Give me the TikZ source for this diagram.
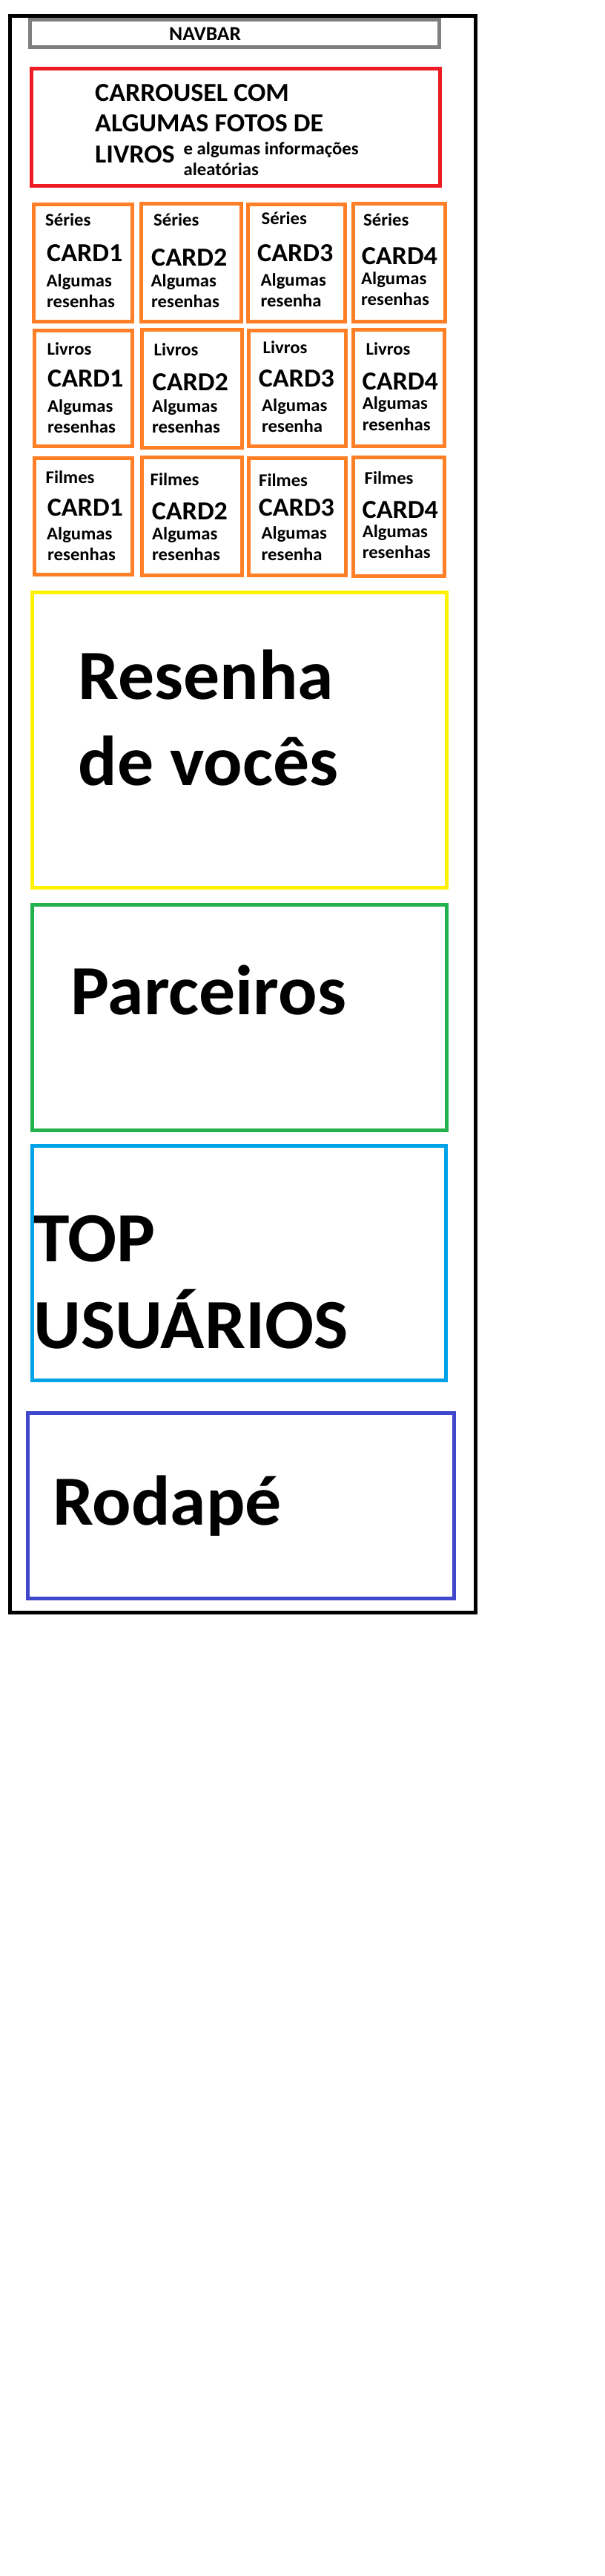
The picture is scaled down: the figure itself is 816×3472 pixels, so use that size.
\documentclass[tikz,border=0pt]{standalone}
\usepackage{fontspec}
\setmainfont{Carlito}[FakeStretch=1.03]
\definecolor{navgray}{HTML}{7F7F7F}
\definecolor{pred}{HTML}{ED1C24}
\definecolor{porange}{HTML}{FF7F27}
\definecolor{pyellow}{HTML}{FFF200}
\definecolor{pgreen}{HTML}{22B14C}
\definecolor{pcyan}{HTML}{00A2E8}
\definecolor{pindigo}{HTML}{3F48CC}
\tikzset{
  frame/.style={line width=5pt},
  txtnav/.style={anchor=base west, inner sep=0pt, font=\fontsize{26.7}{32}\selectfont\bfseries},
  txtsmall/.style={anchor=base west, inner sep=0pt, font=\fontsize{24}{29}\selectfont\bfseries},
  txtcard/.style={anchor=base west, inner sep=0pt, font=\fontsize{35}{42}\selectfont\bfseries},
  txtbig/.style={anchor=base west, inner sep=0pt, font=\fontsize{95}{115}\selectfont\bfseries},
}
\begin{document}
\begin{tikzpicture}[x=1pt,y=-1pt]
\useasboundingbox (0,0) rectangle (816,3472);
\fill[white] (0,0) rectangle (816,3472);
% outer frame
\draw[frame,black] (13.5,21.5) rectangle (641.5,2173.5);
% navbar
\draw[frame,navgray] (40.5,26) rectangle (592.5,63.5);
\node[txtnav] (nav) at (228,54) {NAVBAR};
% carrousel
\draw[frame,pred] (42.5,92) rectangle (593.5,250);
\node[txtcard] (car1) at (128,136) {CARROUSEL COM};
\node[txtcard] (car2) at (128,177.3) {ALGUMAS FOTOS DE};
\node[txtcard] (car3) at (128,219.3) {LIVROS};
\node[txtsmall] (car4) at (247.5,208) {e algumas informações};
\node[txtsmall] (car5) at (247.5,236) {aleatórias};
% cards row 1 (Séries)
\draw[frame,porange] (45.5,275) rectangle (178.5,433.5);
\draw[frame,porange] (190.5,274.5) rectangle (325,433.5);
\draw[frame,porange] (334.5,275) rectangle (465.5,433.5);
\draw[frame,porange] (476,274.5) rectangle (600,433.5);
\node[txtsmall] (s1a) at (61,304) {Séries};
\node[txtcard]  (s1b) at (63,352.7) {CARD1};
\node[txtsmall] (s1c) at (62.5,386) {Algumas};
\node[txtsmall] (s1d) at (63,414) {resenhas};
\node[txtsmall] (s2a) at (207,304) {Séries};
\node[txtcard]  (s2b) at (204,358) {CARD2};
\node[txtsmall] (s2c) at (203.5,386) {Algumas};
\node[txtsmall] (s2d) at (204,414) {resenhas};
\node[txtsmall] (s3a) at (352.5,302) {Séries};
\node[txtcard]  (s3b) at (347,352.7) {CARD3};
\node[txtsmall] (s3c) at (351.5,385) {Algumas};
\node[txtsmall] (s3d) at (351.5,413) {resenha};
\node[txtsmall] (s4a) at (490,304.7) {Séries};
\node[txtcard]  (s4b) at (487.6,356.7) {CARD4};
\node[txtsmall] (s4c) at (487,383) {Algumas};
\node[txtsmall] (s4d) at (487,411.7) {resenhas};
% cards row 2 (Livros)
\draw[frame,porange] (46.5,445) rectangle (178.5,601.5);
\draw[frame,porange] (191.5,444) rectangle (326.5,603);
\draw[frame,porange] (335.5,445) rectangle (466.5,601.5);
\draw[frame,porange] (476.5,444) rectangle (599.5,601.5);
\node[txtsmall] (l1a) at (63.5,478) {Livros};
\node[txtcard]  (l1b) at (64,521.7) {CARD1};
\node[txtsmall] (l1c) at (64,555) {Algumas};
\node[txtsmall] (l1d) at (64,583) {resenhas};
\node[txtsmall] (l2a) at (207.5,479) {Livros};
\node[txtcard]  (l2b) at (205.5,526.7) {CARD2};
\node[txtsmall] (l2c) at (205,555) {Algumas};
\node[txtsmall] (l2d) at (205,583) {resenhas};
\node[txtsmall] (l3a) at (354.5,476) {Livros};
\node[txtcard]  (l3b) at (348.6,521.7) {CARD3};
\node[txtsmall] (l3c) at (353,554) {Algumas};
\node[txtsmall] (l3d) at (353,582.7) {resenha};
\node[txtsmall] (l4a) at (493.5,478) {Livros};
\node[txtcard]  (l4b) at (488.5,525) {CARD4};
\node[txtsmall] (l4c) at (488.6,551.7) {Algumas};
\node[txtsmall] (l4d) at (488.6,580) {resenhas};
% cards row 3 (Filmes)
\draw[frame,porange] (46.5,617.5) rectangle (178.5,774.5);
\draw[frame,porange] (191.5,616.5) rectangle (326.5,775.5);
\draw[frame,porange] (335.5,617.5) rectangle (466.5,775.5);
\draw[frame,porange] (476.5,616.5) rectangle (599.5,776.5);
\node[txtsmall] (f1a) at (61.5,651.7) {Filmes};
\node[txtcard]  (f1b) at (63.6,695) {CARD1};
\node[txtsmall] (f1c) at (63,727) {Algumas};
\node[txtsmall] (f1d) at (64,755.7) {resenhas};
\node[txtsmall] (f2a) at (202.5,654) {Filmes};
\node[txtcard]  (f2b) at (204.6,700) {CARD2};
\node[txtsmall] (f2c) at (205,727) {Algumas};
\node[txtsmall] (f2d) at (205,755.7) {resenhas};
\node[txtsmall] (f3a) at (349,655.7) {Filmes};
\node[txtcard]  (f3b) at (348.6,695) {CARD3};
\node[txtsmall] (f3c) at (352.5,726.7) {Algumas};
\node[txtsmall] (f3d) at (352.5,755) {resenha};
\node[txtsmall] (f4a) at (491.5,652) {Filmes};
\node[txtcard]  (f4b) at (488.5,698) {CARD4};
\node[txtsmall] (f4c) at (488.6,724) {Algumas};
\node[txtsmall] (f4d) at (488.6,752.7) {resenhas};
% resenha de voces
\draw[frame,pyellow] (43.5,798.5) rectangle (602,1196.5);
\node[txtbig] (res1) at (105.5,942) {Resenha};
\node[txtbig] (res2) at (105.5,1058) {de vocês};
% parceiros
\draw[frame,pgreen] (43.5,1219.5) rectangle (602,1523);
\node[txtbig] (parc) at (95.5,1367) {Parceiros};
% top usuarios
\draw[frame,pcyan] (43.5,1544.5) rectangle (601,1860);
\node[txtbig] (top1) at (45.5,1700) {TOP};
\node[txtbig] (top2) at (45,1817) {USUÁRIOS};
% rodape
\draw[frame,pindigo] (37.5,1904.5) rectangle (612,2154.5);
\node[txtbig] (rod) at (71,2055) {Rodapé};
\end{tikzpicture}
\end{document}
